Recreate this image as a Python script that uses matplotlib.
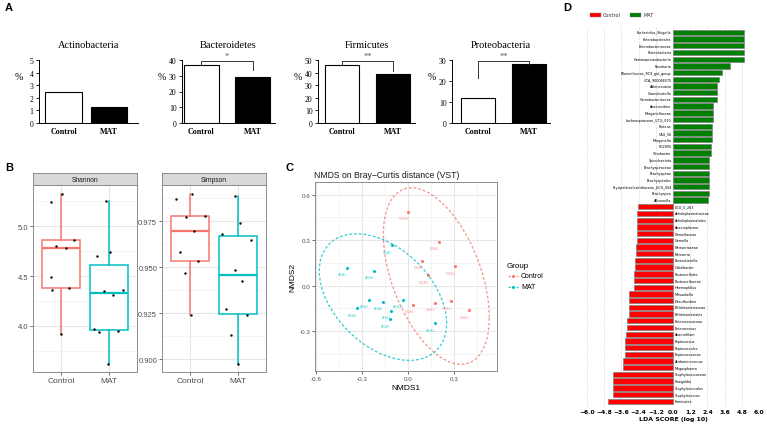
import numpy as np
import matplotlib
matplotlib.use("Agg")
import matplotlib.pyplot as plt
from matplotlib.patches import Rectangle
from matplotlib.lines import Line2D

# ---------------- DATA ----------------
groups = ["Control", "MAT"]

# Panel A: relative abundance (%) of phyla
phyla = ["Actinobacteria", "Bacteroidetes", "Firmicutes", "Proteobacteria"]
phylum_control = [2.5, 37.0, 46.0, 12.0]
phylum_mat = [1.3, 29.5, 39.0, 28.0]
phylum_ymax = [5, 40, 50, 30]
phylum_ystep = [1, 10, 10, 10]
phylum_sig = ["", "*", "**", "**"]

# Panel B: alpha diversity
shannon_control = [5.24, 5.33, 4.80, 4.78, 4.86, 4.49, 4.36, 4.38, 3.92]
shannon_mat = [5.25, 4.70, 4.74, 4.35, 4.36, 4.31, 3.97, 3.94, 3.95, 3.62]
shannon_jit_control = [-0.22, 0.01, -0.11, 0.09, 0.27, -0.22, -0.19, 0.16, -0.01]
shannon_jit_mat = [-0.06, -0.24, 0.03, -0.10, 0.30, 0.10, -0.31, -0.21, 0.20, -0.01]
simpson_control = [0.9874, 0.9902, 0.9773, 0.9779, 0.9698, 0.9586, 0.9535, 0.9469, 0.9241]
simpson_mat = [0.9887, 0.9741, 0.9681, 0.9647, 0.9488, 0.9429, 0.9272, 0.9241, 0.9135, 0.8978]
simpson_jit_control = [-0.31, 0.04, -0.10, 0.31, 0.07, -0.21, 0.17, -0.11, 0.01]
simpson_jit_mat = [-0.06, 0.05, -0.34, 0.29, -0.06, 0.09, -0.24, 0.19, -0.13, 0.01]

# Panel C: NMDS coordinates
nmds_control_labels = ["NRA8", "NRA1", "NRA7", "NRA6", "NRA2", "NRA5", "NRA9", "NRA4", "NRA3"]
nmds_control_x = [0.000, 0.202, 0.093, 0.130, 0.302, 0.176, 0.035, 0.280, 0.393]
nmds_control_y = [0.488, 0.287, 0.162, 0.068, 0.127, -0.112, -0.129, -0.105, -0.164]
nmds_mat_labels = ["ARA5", "ARA3", "ARA4", "ARA1", "ARA10", "ARA6", "ARA8", "ARA7", "ARA9", "ARA2"]
nmds_mat_x = [-0.107, -0.398, -0.220, -0.257, -0.035, -0.161, -0.333, -0.109, -0.117, 0.176]
nmds_mat_y = [0.265, 0.116, 0.099, -0.094, -0.094, -0.107, -0.151, -0.169, -0.223, -0.250]

# Panel D: LEfSe LDA scores
lda_mat_taxa = ["Escherichia_Shigella", "Enterobacterales", "Enterobacteriaceae", "Proteobacteria",
                "Gammaproteobacteria", "Roseburia", "Rikenellaceae_RC9_gut_group", "GCA_900066575",
                "Adlercreutzia", "Granulicatella", "Carnobacteriaceae", "Anaerovibrio", "Morganellaceae",
                "Lachnospiraceae_UCG_010", "Proteus", "CAG_56", "Morganella", "FD2005", "Citrobacter",
                "Spirochaetota", "Brachyspiraceae", "Brachyspirae", "Brachyspirales",
                "Erysipelatoclostridiaceae_UCG_004", "Brachyspira", "Allisonella"]
lda_mat_scores = [4.97, 4.97, 4.97, 4.92, 4.92, 3.99, 3.43, 3.19, 3.08, 3.05, 3.05, 2.82, 2.80,
                  2.80, 2.75, 2.73, 2.70, 2.68, 2.63, 2.54, 2.54, 2.54, 2.54, 2.54, 2.49, 2.45]
lda_control_taxa = ["UCG_5_263", "Acholeplasmataceae", "Acholeplasmatales", "Anaeroplasma",
                    "Gemellaceae", "Gemella", "Neisseriaceae", "Neisseria", "Parasutterella",
                    "Odoribacter", "Pasteurellales", "Pasteurellaceae", "Haemophilus", "Mitsuokella",
                    "Desulfovibrio", "Bifidobacteriaceae", "Bifidobacteriales", "Enterococcaceae",
                    "Enterococcus", "Anaerofilum", "Peptococcus", "Peptococcales", "Peptococcaceae",
                    "Acidaminococcus", "Megasphaera", "Staphylococcaceae", "Finegoldia",
                    "Staphylococcales", "Staphylococcus", "Firmicutes"]
lda_control_scores = [-2.42, -2.52, -2.52, -2.52, -2.52, -2.52, -2.61, -2.61, -2.66, -2.68, -2.70,
                      -2.73, -2.73, -3.05, -3.05, -3.10, -3.10, -3.22, -3.22, -3.29, -3.33, -3.36,
                      -3.36, -3.47, -3.52, -4.20, -4.20, -4.20, -4.22, -4.55]
lda_ticks = [-6.0, -4.8, -3.6, -2.4, -1.2, 0.0, 1.2, 2.4, 3.6, 4.8, 6.0]

# ---------------- FIGURE ----------------
W, H = 767, 427
fig = plt.figure(figsize=(W / 100, H / 100), dpi=100)


def rect(l, t, r, b):
    return [l / W, 1 - b / H, (r - l) / W, (b - t) / H]


SERIF = ["Liberation Serif", "DejaVu Serif"]
SANS = ["Liberation Sans", "DejaVu Sans"]
C_RED = "#F8766D"
C_CYAN = "#00BFC4"

# panel letters
for letter, x, y in [("A", 5, 8), ("B", 5, 168), ("C", 285, 168), ("D", 563, 8)]:
    fig.text(x / W, 1 - y / H, letter, fontsize=8, fontweight="bold", family=SANS,
             ha="left", va="center")

# ---------------- PANEL A ----------------
a_layout = [(39, 138, (-0.54, 1.64), 0.80),
            (182, 275, (-0.38, 1.44), 0.68),
            (318, 415, (-0.48, 1.44), 0.68),
            (452, 550, (-0.52, 1.42), 0.68)]
# bracket geometry (fraction of ymax): horizontal level, left leg bottom, right leg bottom
a_brackets = [None, (0.99, None, 0.845), (0.985, None, 0.83), (0.985, 0.72, None)]
for i, name in enumerate(phyla):
    l, r, xl, bw = a_layout[i]
    ax = fig.add_axes(rect(l, 61, r, 124))
    vals = [phylum_control[i], phylum_mat[i]]
    ax.bar([0, 1], vals, width=bw, color=["white", "black"], edgecolor="black", linewidth=0.8,
           zorder=3)
    ax.set_xlim(*xl)
    ymax = phylum_ymax[i]
    ax.set_ylim(0, ymax)
    ax.set_yticks(np.arange(0, ymax + 0.01, phylum_ystep[i]))
    ax.set_yticklabels([f"{int(v)}" for v in np.arange(0, ymax + 0.01, phylum_ystep[i])],
                       family=SERIF, fontsize=5.5)
    ax.set_xticks([0, 1])
    ax.set_xticklabels(groups, family=SERIF, fontsize=5.8, fontweight="bold")
    ax.tick_params(axis="x", length=0, pad=3)
    ax.tick_params(axis="y", length=2, width=0.6, pad=2)
    for s in ["top", "right"]:
        ax.spines[s].set_visible(False)
    for s in ["left", "bottom"]:
        ax.spines[s].set_linewidth(0.7)
    ax.set_title(name, family=SERIF, fontsize=7.5, pad=9)
    fig.text((l - 24) / W, 1 - 77 / H, "%", family=SERIF, fontsize=7, ha="left", va="center")
    br = a_brackets[i]
    if br is not None:
        hy = br[0] * ymax
        lb = br[1] * ymax if br[1] is not None else vals[0]
        rb = br[2] * ymax if br[2] is not None else vals[1]
        ax.plot([0, 0, 1, 1], [lb, hy, hy, rb], color="#333333", lw=0.7, clip_on=False, zorder=4)
        ax.text(0.5, hy + 0.015 * ymax, phylum_sig[i], ha="center", va="bottom", fontsize=6,
                color="#555555", family=SERIF, clip_on=False)

# ---------------- PANEL B ----------------
def box_panel(l, r, strip_title, ctrl, mat, jc, jm, major, minor, fmt):
    ax = fig.add_axes(rect(l, 186, r, 373))
    allv = np.array(ctrl + mat)
    lo, hi = allv.min(), allv.max()
    pad = 0.05 * (hi - lo)
    ax.set_ylim(lo - pad, hi + pad)
    ax.set_xlim(0.4, 2.6)
    for v in minor:
        ax.axhline(v, color="#F0F0F0", lw=0.5, zorder=0)
    for v in major:
        ax.axhline(v, color="#E6E6E6", lw=0.8, zorder=0)
    for x in [1, 2]:
        ax.axvline(x, color="#E6E6E6", lw=0.8, zorder=0)
    for k, (vals, col) in enumerate([(ctrl, C_RED), (mat, C_CYAN)]):
        ax.boxplot([vals], positions=[k + 1], widths=0.8, whis=1.5, showfliers=False,
                   patch_artist=True,
                   boxprops=dict(facecolor="white", edgecolor=col, linewidth=1.1),
                   medianprops=dict(color=col, linewidth=1.6),
                   whiskerprops=dict(color=col, linewidth=1.1),
                   capprops=dict(visible=False), zorder=2)
    ax.scatter(1 + np.array(jc), ctrl, s=3, color="black", zorder=4, linewidths=0)
    ax.scatter(2 + np.array(jm), mat, s=3, color="black", zorder=4, linewidths=0)
    ax.set_yticks(major)
    ax.set_yticklabels([fmt.format(v) for v in major], fontsize=5.5, color="#4D4D4D", family=SANS)
    ax.set_xticks([1, 2])
    ax.set_xticklabels(groups, fontsize=6, color="#4D4D4D", family=SANS)
    ax.tick_params(length=2, width=0.5, color="#333333", pad=1.5)
    for s in ax.spines.values():
        s.set_color("#8C8C8C")
        s.set_linewidth(0.7)
    sax = fig.add_axes(rect(l, 174, r, 186))
    sax.set_xticks([])
    sax.set_yticks([])
    sax.set_facecolor("#D9D9D9")
    for s in sax.spines.values():
        s.set_color("#8C8C8C")
        s.set_linewidth(0.7)
    sax.text(0.5, 0.5, strip_title, ha="center", va="center", fontsize=4.8, color="#1A1A1A",
             family=SANS, transform=sax.transAxes)
    return ax


box_panel(33, 137, "Shannon", shannon_control, shannon_mat, shannon_jit_control, shannon_jit_mat,
          [4.0, 4.5, 5.0], [3.75, 4.25, 4.75, 5.25], "{:.1f}")
box_panel(162, 266, "Simpson", simpson_control, simpson_mat, simpson_jit_control, simpson_jit_mat,
          [0.900, 0.925, 0.950, 0.975], [0.9125, 0.9375, 0.9625, 0.9875], "{:.3f}")

# ---------------- PANEL C ----------------
def cov_trob(x, nu=5, maxit=25, tol=0.01):
    x = np.asarray(x, float)
    n, p = x.shape
    wt = np.ones(n)
    loc = x.mean(axis=0)
    w = np.sqrt(wt)
    X = x - loc
    for _ in range(maxit):
        w0 = w
        X = x - loc
        _, d, vt = np.linalg.svd(np.sqrt(wt / wt.sum())[:, None] * X, full_matrices=False)
        wX = X @ vt.T @ np.diag(1 / d)
        Q = (wX ** 2).sum(axis=1)
        w = (wt * (nu + p)) / (nu + Q)
        loc = (w[:, None] * x).sum(axis=0) / w.sum()
        if np.all(np.abs(w - w0) < tol):
            break
    X = x - loc
    cov = (np.sqrt(w)[:, None] * X).T @ (np.sqrt(w)[:, None] * X) / wt.sum()
    return loc, cov


def stat_ellipse(xs, ys, level=0.95, segments=51):
    pts = np.column_stack([xs, ys])
    center, shape = cov_trob(pts)
    dfd = len(xs) - 1
    fq = dfd / 2 * ((1 - level) ** (-2 / dfd) - 1)
    radius = np.sqrt(2 * fq)
    chol = np.linalg.cholesky(shape).T
    ang = np.linspace(0, 2 * np.pi, segments + 1)
    circ = np.column_stack([np.cos(ang), np.sin(ang)])
    return center + radius * (circ @ chol)


axc = fig.add_axes(rect(315, 183, 497, 372))
axc.set_xlim(-0.605, 0.578)
axc.set_ylim(-0.564, 0.684)
for v in [-0.45, -0.15, 0.15, 0.45]:
    axc.axvline(v, color="#F0F0F0", lw=0.5, zorder=0)
for v in [-0.45, -0.15, 0.15, 0.45]:
    axc.axhline(v, color="#F0F0F0", lw=0.5, zorder=0)
for v in [-0.6, -0.3, 0.0, 0.3]:
    axc.axvline(v, color="#E6E6E6", lw=0.8, zorder=0)
    axc.axhline(v, color="#E6E6E6", lw=0.8, zorder=0)
axc.axhline(0.6, color="#E6E6E6", lw=0.8, zorder=0)
for xs, ys, labs, col, lcol in [(nmds_control_x, nmds_control_y, nmds_control_labels, C_RED, "#F9A39D"),
                                (nmds_mat_x, nmds_mat_y, nmds_mat_labels, C_CYAN, "#55D4D7")]:
    e = stat_ellipse(xs, ys)
    axc.plot(e[:, 0], e[:, 1], color=col, lw=0.9, ls=(0, (2.2, 1.6)), alpha=0.8, zorder=2)
    axc.scatter(xs, ys, s=5, color=col, zorder=3, linewidths=0)
    for x, y, t in zip(xs, ys, labs):
        axc.annotate(t, (x, y), xytext=(-3, -4.5), textcoords="offset points", fontsize=2.6,
                     color=lcol, ha="center", va="center", family=SANS)
axc.set_xticks([-0.6, -0.3, 0.0, 0.3])
axc.set_xticklabels(["-0.6", "-0.3", "0.0", "0.3"], fontsize=4.5, color="#4D4D4D", family=SANS)
axc.set_yticks([-0.3, 0.0, 0.3, 0.6])
axc.set_yticklabels(["-0.3", "0.0", "0.3", "0.6"], fontsize=4.5, color="#4D4D4D", family=SANS)
axc.tick_params(length=2, width=0.5, color="#333333", pad=1.5)
for s in axc.spines.values():
    s.set_color("#8C8C8C")
    s.set_linewidth(0.7)
axc.set_xlabel("NMDS1", fontsize=6, family=SANS, labelpad=2)
axc.set_ylabel("NMDS2", fontsize=6, family=SANS, labelpad=2)
fig.text(314 / W, 1 - 176 / H, "NMDS on Bray\u2212Curtis distance (VST)", fontsize=6.2,
         family=SANS, ha="left", va="center", color="#1A1A1A")
# legend
fig.text(507 / W, 1 - 266 / H, "Group", fontsize=5.8, family=SANS, ha="left", va="center")
for k, (g, col) in enumerate(zip(groups, [C_RED, C_CYAN])):
    yy = 1 - (277 + 11 * k) / H
    fig.add_artist(Line2D([508 / W, 518 / W], [yy, yy], color=col, lw=0.9, ls=(0, (2, 1.2)),
                          alpha=0.8))
    fig.add_artist(Line2D([513 / W], [yy], marker="o", ms=2.2, color=col, lw=0, mew=0))
    fig.text(521 / W, yy, g, fontsize=5, family=SANS, ha="left", va="center")

# ---------------- PANEL D ----------------
axd = fig.add_axes(rect(587, 27, 759, 407))
taxa = lda_mat_taxa + lda_control_taxa
scores = lda_mat_scores + lda_control_scores
ypos = np.arange(len(taxa))
colors = ["#008000"] * len(lda_mat_taxa) + ["#FF0000"] * len(lda_control_taxa)
axd.barh(ypos, scores, height=0.8, color=colors, edgecolor="#7F7F7F", linewidth=0.5, zorder=3)
axd.set_ylim(len(taxa) - 0.3, -0.95)
axd.set_xlim(-6.0, 6.0)
for t, s, y in zip(taxa, scores, ypos):
    if s > 0:
        axd.text(-0.1, y, t, ha="right", va="center", fontsize=2.4, family=["DejaVu Sans"])
    else:
        axd.text(0.12, y, t, ha="left", va="center", fontsize=2.4, family=["DejaVu Sans"])
axd.set_xticks(lda_ticks)
axd.set_xticklabels([f"{v:.1f}".replace("-", "\u2212") for v in lda_ticks], fontsize=4.3,
                    fontweight="bold", family=["DejaVu Sans"])
axd.tick_params(axis="x", length=0, pad=2)
axd.set_yticks([])
axd.grid(axis="x", ls=(0, (2, 2)), color="#BDBDBD", lw=0.4, zorder=0)
for s in axd.spines.values():
    s.set_visible(False)
axd.set_xlabel("LDA SCORE (log 10)", fontsize=4.5, fontweight="bold", labelpad=1.5,
               family=["DejaVu Sans"])
# legend
for (g, col, x0) in [("Control", "#FF0000", 590), ("MAT", "#008000", 630)]:
    fig.add_artist(Rectangle((x0 / W, 1 - 17.5 / H), 10.5 / W, 4 / H, facecolor=col,
                             edgecolor="#7F7F7F", linewidth=0.3))
    fig.text((x0 + 13) / W, 1 - 15.5 / H, g, fontsize=3.5, ha="left", va="center",
             family=["DejaVu Sans"], color="#333333")

fig.savefig("out.png", dpi=100)
